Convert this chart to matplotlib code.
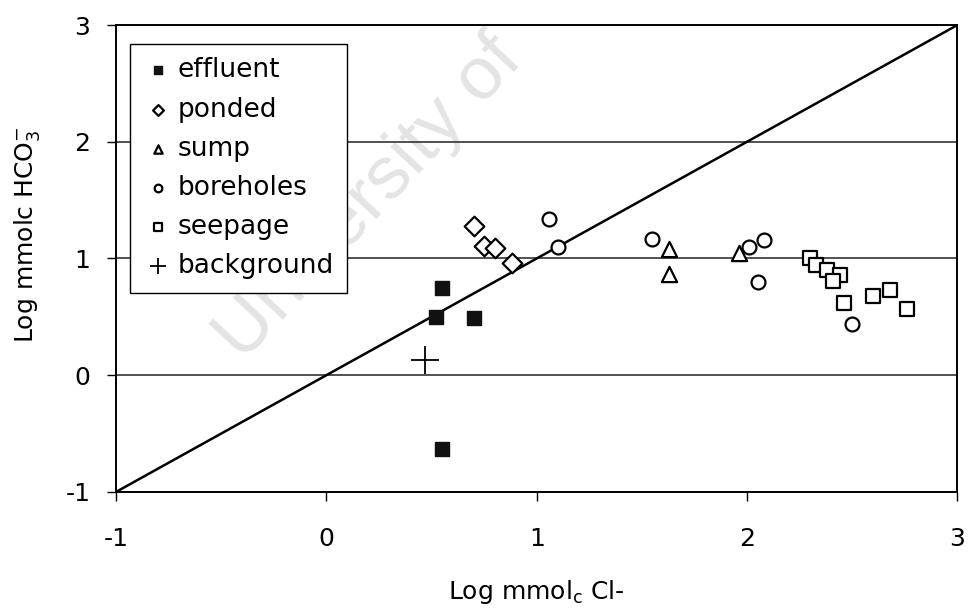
import matplotlib
matplotlib.use("Agg")
import matplotlib.pyplot as plt

plt.rcParams['font.family'] = ['DejaVu Sans']

# Log mmolc Cl- (x) vs Log mmolc HCO3- (y)
effluent_x = [0.55, 0.52, 0.70, 0.55]
effluent_y = [0.75, 0.50, 0.49, -0.63]
ponded_x = [0.70, 0.75, 0.80, 0.88]
ponded_y = [1.28, 1.11, 1.09, 0.96]
sump_x = [1.63, 1.63, 1.96]
sump_y = [1.08, 0.87, 1.05]
bore_x = [1.06, 1.10, 1.55, 2.01, 2.08, 2.05, 2.50]
bore_y = [1.34, 1.10, 1.17, 1.10, 1.16, 0.80, 0.44]
seep_x = [2.30, 2.33, 2.38, 2.44, 2.41, 2.46, 2.60, 2.68, 2.76]
seep_y = [1.00, 0.94, 0.90, 0.86, 0.81, 0.62, 0.68, 0.73, 0.57]
bg_x = [0.47]
bg_y = [0.13]
line_xy = [-1, 3]

fig = plt.figure(figsize=(9.68, 6.11), dpi=100)
ax = fig.add_axes([0.120, 0.195, 0.869, 0.764])
ax.set_facecolor("none")

# faint scan watermark
ax.text(0.382, 0.675, "University of", transform=fig.transFigure, fontsize=54,
        family="Liberation Sans", color="#e4e4e4", rotation=47, ha="center",
        va="center", zorder=0.1, clip_on=False)

ax.plot(line_xy, line_xy, color="black", lw=1.8, zorder=2)
ax.scatter(effluent_x, effluent_y, marker="s", s=95, c="#111111", label="effluent", zorder=3)
ax.scatter(ponded_x, ponded_y, marker="D", s=100, facecolors="white", edgecolors="black",
           linewidths=1.6, label="ponded", zorder=3)
ax.scatter(sump_x, sump_y, marker="^", s=120, facecolors="white", edgecolors="black",
           linewidths=1.6, label="sump", zorder=3)
ax.scatter(bore_x, bore_y, marker="o", s=100, facecolors="white", edgecolors="black",
           linewidths=1.6, label="boreholes", zorder=3)
ax.scatter(seep_x, seep_y, marker="s", s=100, facecolors="white", edgecolors="black",
           linewidths=1.6, label="seepage", zorder=3)
ax.scatter(bg_x, bg_y, marker="+", s=420, c="black", linewidths=1.3, label="background", zorder=3)

ax.set_xlim(-1, 3)
ax.set_ylim(-1, 3)
ax.set_xticks([-1, 0, 1, 2, 3])
ax.set_yticks([-1, 0, 1, 2, 3])
ax.set_xticklabels(["-1", "0", "1", "2", "3"])
ax.set_yticklabels(["-1", "0", "1", "2", "3"])
ax.tick_params(direction="out", length=6.5, width=1, labelsize=18)
ax.tick_params(axis="x", pad=19)
ax.tick_params(axis="y", pad=12)
ax.yaxis.grid(True, color="#222222", lw=1.1)
ax.set_axisbelow(True)
for sp in ax.spines.values():
    sp.set_linewidth(1.4)

ax.set_xlabel("Log mmol$_\\mathregular{c}$ Cl-", fontsize=18)
ax.set_ylabel("Log mmolc HCO$_\\mathregular{3}^{\\mathregular{-}}$", fontsize=18)
ax.xaxis.set_label_coords(0.5, -0.185)
ax.yaxis.set_label_coords(-0.088, 0.55)

leg = ax.legend(loc="upper left", bbox_to_anchor=(0.0166, 0.959), fontsize=19,
                markerscale=0.55, handlelength=1.1, handletextpad=0.2,
                labelspacing=0.5, borderpad=0.5, borderaxespad=0,
                frameon=True, fancybox=False, edgecolor="black", framealpha=1)
leg.get_frame().set_linewidth(1)

fig.savefig("out.png", dpi=100)
